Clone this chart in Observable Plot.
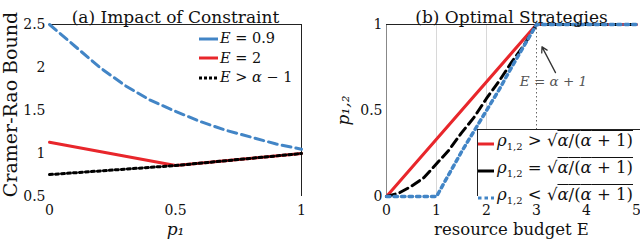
<!DOCTYPE html>
<html>
<head>
<meta charset="utf-8">
<script src="https://cdn.jsdelivr.net/npm/d3@7"></script>
<script src="https://cdn.jsdelivr.net/npm/@observablehq/plot@0.6"></script>
<style>
  body { margin: 0; background: white; }
  #wrap { position: relative; width: 640px; height: 245px; overflow: hidden; font-family: "DejaVu Serif", serif; }
  .panel { position: absolute; top: 0; }
  .leg { position: absolute; font-family: "DejaVu Serif", serif; color: #111; }
  .row { display: flex; align-items: center; white-space: nowrap; }
  .row svg { display: block; }
  .ovl { text-decoration: overline; }
</style>
</head>
<body>
<div id="wrap">
  <div id="left" class="panel" style="left:0"></div>
  <div id="right" class="panel" style="left:320px"></div>
  <div class="leg" id="legA" style="left:199px; top:29px; font-size:14.5px; line-height:19.5px;"></div>
  <div class="leg" id="legB" style="left:477px; top:129px; width:163px; height:67px; background:white; border-top:1px solid #222; border-left:1px solid #222; font-size:16.5px; line-height:20.5px; padding-top:1px; box-sizing:border-box;"></div>
</div>
<script>
// ---------- Panel (a) data ----------
const p1 = [0, 0.1, 0.2, 0.3, 0.4, 0.5, 0.6, 0.7, 0.8, 0.9, 1];
const crbE09 = [2.5, 2.25, 2.0, 1.79, 1.62, 1.49, 1.37, 1.27, 1.19, 1.11, 1.05];
const p1Kinks = [0, 0.5, 1];
const crbE2 = [1.13, 0.86, 1.0];
const crbLarge = [0.755, 0.86, 1.0];
const xTicksA = [0, 0.5, 1];
const yTicksA = [0.5, 1, 1.5, 2, 2.5];
const xDomainA = [0, 1];
const yDomainA = [0.5, 2.5];

// ---------- Panel (b) data ----------
const eRed = [0, 3, 5];
const pRed = [0, 1, 1];
const eBlack = [0, 0.25, 0.5, 0.75, 1, 1.25, 1.5, 1.75, 2, 2.25, 2.5, 2.75, 3, 5];
const pBlack = [0, 0.02, 0.06, 0.11, 0.19, 0.27, 0.37, 0.46, 0.57, 0.67, 0.78, 0.88, 1, 1];
const eBlue = [0, 1, 1.25, 1.5, 1.75, 2, 2.25, 2.5, 2.75, 3, 5];
const pBlue = [0, 0, 0.13, 0.26, 0.38, 0.5, 0.62, 0.75, 0.875, 1, 1];
const xTicksB = [0, 1, 2, 3, 4, 5];
const yTicksB = [0, 0.5, 1];
const xDomainB = [0, 5];
const yDomainB = [0, 1];
const gridB = [1, 2];
const threshold = [3];
const annotArrow = [{x1: 3.38, y1: 0.72, x2: 3.11, y2: 0.87}];
const annotText = [{x: 3.34, y: 0.665, text: "E = α + 1"}];

const RED = "#e8262b", BLUE = "#4285c6", BLACK = "#000";
const fmt = d => String(d);
const zipA = (xs, ys) => xs.map((x, i) => ({x, y: ys[i]}));

const font = {fontFamily: "DejaVu Serif, serif", fontSize: "14px", color: "#111", background: "white", overflow: "visible"};

const left = Plot.plot({
  width: 320, height: 245,
  marginLeft: 49, marginRight: 19, marginTop: 24, marginBottom: 49,
  x: {domain: xDomainA},
  y: {domain: yDomainA},
  style: font,
  marks: [
    Plot.axisX({ticks: xTicksA, tickFormat: fmt, tickSize: 0, tickPadding: 9, label: null}),
    Plot.axisY({ticks: yTicksA, tickFormat: fmt, tickSize: 0, tickPadding: 4, label: null}),
    Plot.ruleY([yDomainA[1]], {stroke: "#222", strokeWidth: 1}),
    Plot.ruleX([xDomainA[1]], {stroke: "#222", strokeWidth: 1}),
    Plot.line(zipA(p1, crbE09), {x: "x", y: "y", stroke: BLUE, strokeWidth: 3, strokeDasharray: "9,5"}),
    Plot.line(zipA(p1Kinks, crbE2), {x: "x", y: "y", stroke: RED, strokeWidth: 3}),
    Plot.line(zipA(p1Kinks, crbLarge), {x: "x", y: "y", stroke: BLACK, strokeWidth: 3, strokeDasharray: "3,3"}),
    Plot.text(["(a) Impact of Constraint"], {frameAnchor: "top", dy: -14, fontSize: 17}),
    Plot.text(["Cramer-Rao Bound"], {frameAnchor: "left", textAnchor: "middle", dx: -39, dy: -6, rotate: -90, fontSize: 19}),
    Plot.text(["p₁"], {frameAnchor: "bottom", dy: 38, fontSize: 17, fontStyle: "italic"})
  ]
});
document.getElementById("left").append(left);

const right = Plot.plot({
  width: 320, height: 245,
  marginLeft: 66, marginRight: 4, marginTop: 24, marginBottom: 49,
  x: {domain: xDomainB},
  y: {domain: yDomainB},
  style: font,
  marks: [
    Plot.ruleX(gridB, {stroke: "#d8d8d8", strokeWidth: 1}),
    Plot.ruleX(threshold, {stroke: "#666", strokeWidth: 1, strokeDasharray: "1.5,2.5"}),
    Plot.ruleX([xDomainB[0]], {stroke: "#888", strokeWidth: 1}),
    Plot.ruleY([yDomainB[1]], {stroke: "#222", strokeWidth: 1}),
    Plot.axisX({ticks: xTicksB, tickFormat: fmt, tickSize: 0, tickPadding: 9, label: null}),
    Plot.axisY({ticks: yTicksB, tickFormat: fmt, tickSize: 0, tickPadding: 4, label: null}),
    Plot.text(annotText, {x: "x", y: "y", text: "text", fill: "#555", fontStyle: "italic", fontSize: 13.5}),
    Plot.arrow(annotArrow, {x1: "x1", y1: "y1", x2: "x2", y2: "y2", stroke: "#333", strokeWidth: 1.3, headLength: 7}),
    Plot.line(zipA(eRed, pRed), {x: "x", y: "y", stroke: RED, strokeWidth: 3}),
    Plot.line(zipA(eBlack, pBlack), {x: "x", y: "y", stroke: BLACK, strokeWidth: 3, strokeDasharray: "9,5"}),
    Plot.line(zipA(eBlue, pBlue), {x: "x", y: "y", stroke: BLUE, strokeWidth: 3.5, strokeDasharray: "3.5,4"}),
    Plot.text(["(b) Optimal Strategies"], {frameAnchor: "top", dy: -14, fontSize: 17}),
    Plot.text(["p₁,₂"], {frameAnchor: "left", textAnchor: "middle", dx: -43, rotate: -90, fontSize: 17, fontStyle: "italic"}),
    Plot.text(["resource budget E"], {frameAnchor: "bottom", dy: 38, fontSize: 16.5})
  ]
});
document.getElementById("right").append(right);

// ---------- Legends ----------
function sample(color, dash, w, len) {
  return `<svg width="${len}" height="8"><line x1="0" y1="4" x2="${len}" y2="4" stroke="${color}" stroke-width="${w}" ${dash ? `stroke-dasharray="${dash}"` : ""}/></svg>`;
}
const legA = [
  {c: BLUE, d: null, label: "<i>E</i> = 0.9"},
  {c: RED, d: null, label: "<i>E</i> = 2"},
  {c: BLACK, d: "3,2", label: "<i>E</i> &gt; <i>α</i> − 1"}
];
document.getElementById("legA").innerHTML = legA.map(r =>
  `<div class="row">${sample(r.c, r.d, 3, 19)}<span style="margin-left:2px">${r.label}</span></div>`).join("");

const rad = `√<span class="ovl"><i>α</i>/(<i>α</i> + 1)</span>`;
const legB = [
  {c: RED, d: null, label: `<i>ρ</i><sub style="font-size:10px">1,2</sub> &gt; ${rad}`},
  {c: BLACK, d: null, label: `<i>ρ</i><sub style="font-size:10px">1,2</sub> = ${rad}`},
  {c: BLUE, d: "3.5,3", label: `<i>ρ</i><sub style="font-size:10px">1,2</sub> &lt; ${rad}`}
];
document.getElementById("legB").innerHTML = legB.map(r =>
  `<div class="row">${sample(r.c, r.d, 3, 16)}<span style="margin-left:3px">${r.label}</span></div>`).join("");
</script>
</body>
</html>
